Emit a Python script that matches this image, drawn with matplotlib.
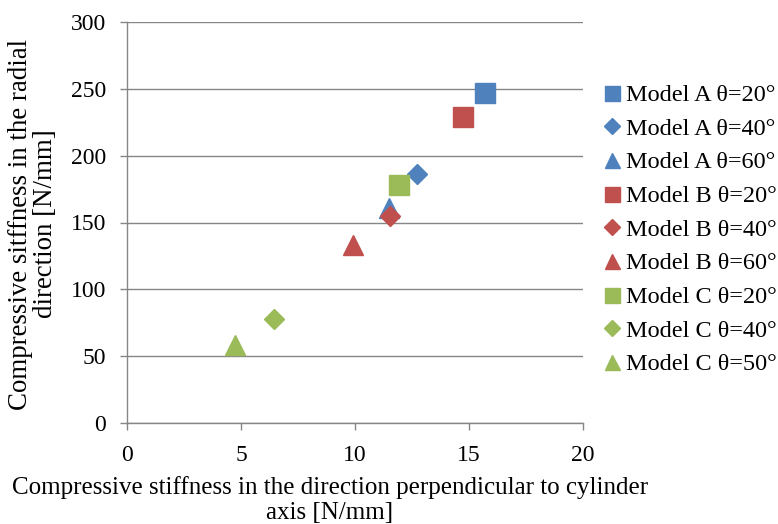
import matplotlib
matplotlib.use("Agg")
import matplotlib.pyplot as plt

plt.rcParams['font.family'] = ['Liberation Serif', 'DejaVu Serif']

#series
labels = ["Model A θ=20°", "Model A θ=40°", "Model A θ=60°",
          "Model B θ=20°", "Model B θ=40°", "Model B θ=60°",
          "Model C θ=20°", "Model C θ=40°", "Model C θ=50°"]
x_vals = [15.7, 12.7, 11.5, 14.75, 11.55, 9.9, 11.95, 6.45, 4.75]
y_vals = [247, 186, 161, 229, 155, 133, 178, 78, 58]

colors = ["#4F81BD"] * 3 + ["#C0504D"] * 3 + ["#9BBB59"] * 3
markers = ["s", "D", "^"] * 3
sizes = [14.4, 10.3, 14.4] * 3

grid_c = "#868686"

fig = plt.figure(figsize=(7.78, 5.24), dpi=100)
ax = fig.add_axes([127 / 778, 101 / 524, 456 / 778, 401 / 524])

for lab, x, y, c, m, s in zip(labels, x_vals, y_vals, colors, markers, sizes):
    ax.plot([x], [y], linestyle="none", marker=m, markersize=s, color=c,
            markeredgecolor=c, label=lab, zorder=3)

ax.set_xlim(0, 20)
ax.set_ylim(0, 300)
ax.set_xticks([0, 5, 10, 15, 20])
ax.set_yticks(range(0, 301, 50))
ax.yaxis.grid(True, color=grid_c, linewidth=1.0)
ax.set_axisbelow(True)

for side in ["top", "right"]:
    ax.spines[side].set_visible(False)
for side in ["left", "bottom"]:
    ax.spines[side].set_color(grid_c)
    ax.spines[side].set_linewidth(1.0)
ax.tick_params(axis="both", colors=grid_c, length=5, width=1.0, labelsize=17,
               labelcolor="black", direction="out")
ax.tick_params(axis="x", pad=11)
ax.tick_params(axis="y", pad=10)

fig.text(330 / 778, 1 - 500 / 524,
         "Compressive stiffness in the direction perpendicular to cylinder\naxis [N/mm]",
         ha="center", va="center", fontsize=18, linespacing=1.12)
fig.text(33 / 778, 1 - 224 / 524,
         "Compressive sitffness in the radial\ndirection [N/mm]",
         ha="center", va="center", rotation=90, fontsize=19.4, linespacing=1.0)

ax.legend(loc="upper left", bbox_to_anchor=(603 / 778, 1 - 84 / 524),
          bbox_transform=fig.transFigure, frameon=False, fontsize=17.5,
          markerscale=0.75, handlelength=0.7, handletextpad=0.25,
          labelspacing=0.48, borderaxespad=0, borderpad=0)

fig.savefig("out.png", dpi=100)
